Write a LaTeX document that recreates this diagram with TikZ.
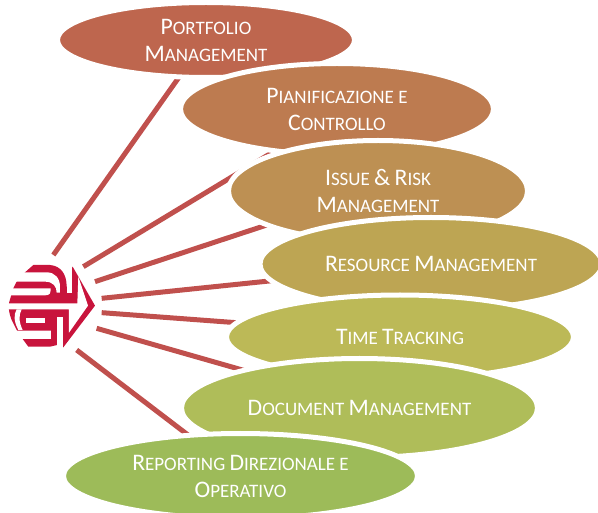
\documentclass[tikz,border=0pt]{standalone}
\usepackage{fontspec}
\setmainfont{Carlito}
\usetikzlibrary{shapes.geometric,backgrounds}
\definecolor{cA}{HTML}{BE664E}
\definecolor{cB}{HTML}{BD7B50}
\definecolor{cC}{HTML}{BD9053}
\definecolor{cD}{HTML}{BDA553}
\definecolor{cE}{HTML}{BCB957}
\definecolor{cF}{HTML}{AFBD59}
\definecolor{cG}{HTML}{9DBB59}
\definecolor{spoke}{HTML}{C0504D}
\definecolor{logored}{HTML}{C8143C}
\newcommand\bc[1]{{\fontsize{23.7}{27}\selectfont #1}}
\tikzset{
  item/.style={ellipse,draw=white,line width=5pt,inner sep=0pt,outer sep=0pt,text=white,align=center,
    font=\fontsize{19}{27}\selectfont},
  spokeline/.style={draw=spoke,line width=5pt},
}
\begin{document}
\begin{tikzpicture}[x=1pt,y=-1pt]
\useasboundingbox (0,0) rectangle (598,513);
\node[item,fill=cA,minimum width=297pt,minimum height=75pt] (pm) at (206,40) {\bc{P}ORTFOLIO\\\bc{M}ANAGEMENT};
\node[item,fill=cB,minimum width=313pt,minimum height=91pt] (pc) at (337,109) {\bc{P}IANIFICAZIONE E\\\bc{C}ONTROLLO};
\node[item,fill=cC,minimum width=299pt,minimum height=101pt] (ir) at (378,191) {\bc{I}SSUE \bc{\&} \bc{R}ISK\\\bc{M}ANAGEMENT};
\node[item,fill=cD,minimum width=342pt,minimum height=93pt] (rm) at (431,264) {\bc{R}ESOURCE \bc{M}ANAGEMENT};
\node[item,fill=cE,minimum width=347pt,minimum height=84pt] (tt) at (400,337) {\bc{T}IME \bc{T}RACKING};
\node[item,fill=cF,minimum width=356pt,minimum height=99pt] (dm) at (359.5,408) {\bc{D}OCUMENT \bc{M}ANAGEMENT};
\node[item,fill=cG,minimum width=354pt,minimum height=85pt] (rd) at (240.5,476) {\bc{R}EPORTING \bc{D}IREZIONALE E\\\bc{O}PERATIVO};
% logo
\begin{scope}[shift={(0,240)},x=0.3333pt,y=-0.3333pt]
  \coordinate (s1) at (160,45);
  \coordinate (s2) at (250,80);
  \coordinate (s3) at (285,125);
  \coordinate (s4) at (305,175);
  \coordinate (s5) at (305,218);
  \coordinate (s6) at (290,265);
  \coordinate (s7) at (230,330);
  \fill[logored] (75,97) -- (100,75) -- (150,75) .. controls (185,78) and (200,105) .. (200,140) -- (215,140) -- (215,85) -- (218,80) -- (285,197) -- (190,322) -- (172,315) -- (150,320) -- (85,320) -- (68,297) -- (50,270) -- (35,240) .. controls (25,215) and (25,195) .. (28,185) -- (40,145) -- (50,125) -- cycle;
  \fill[white] (30,97) -- (140,97) .. controls (165,97) and (180,115) .. (180,140) -- (180,158) -- (170,158) .. controls (170,140) and (160,125) .. (135,125) -- (30,125) -- cycle;
  \fill[white] (25,145) -- (152,145) .. controls (152,160) and (150,166) .. (135,166) -- (25,166) -- cycle;
  \fill[white] (200,60) -- (215,60) -- (215,158) -- (200,158) -- cycle;
  \fill[white] (235,110) -- (264,197) -- (207,278) -- (207,208) -- (20,208) -- (20,190) -- (232,190) -- cycle;
  \fill[white] (50,208) .. controls (40,225) and (42,245) .. (55,270) -- (68,270) .. controls (56,245) and (56,225) .. (65,208) -- cycle;
  \fill[white] (77,235) -- (135,235) -- (135,250) -- (77,250) -- cycle;
  \fill[white] (45,272) -- (153,272) -- (153,297) -- (60,297) -- cycle;
  \fill[white] (172,230) -- (190,230) -- (190,330) -- (172,330) -- cycle;
\end{scope}
\begin{scope}[on background layer]
  \draw[spokeline] (s1) -- (pm.234.5);
  \draw[spokeline] (s2) -- (pc.214);
  \draw[spokeline] (s3) -- (ir.197);
  \draw[spokeline] (s4) -- (rm.186.7);
  \draw[spokeline] (s5) -- (tt.175.8);
  \draw[spokeline] (s6) -- (dm.162);
  \draw[spokeline] (s7) -- (rd.142.5);
\end{scope}
\end{tikzpicture}
\end{document}
